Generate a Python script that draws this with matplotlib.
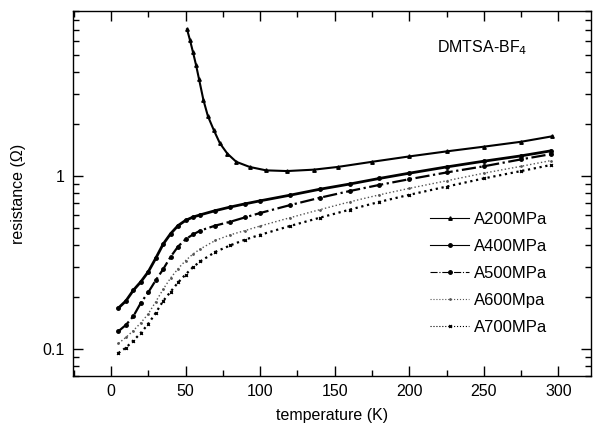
import matplotlib
matplotlib.use('Agg')
import matplotlib.pyplot as plt
from matplotlib.lines import Line2D
from matplotlib.ticker import MultipleLocator, LogLocator, NullFormatter, FixedLocator, FixedFormatter

plt.rcParams['font.family'] = ['Liberation Sans', 'DejaVu Sans']

# temperature grid (K) shared by the four metallic samples
T_low = [5, 10, 15, 20, 25, 30, 35, 40, 45, 50, 55, 60, 70, 80, 90, 100,
         120, 140, 160, 180, 200, 225, 250, 275, 295]

# resistance (Ohm)
r400 = [0.173, 0.19, 0.219, 0.245, 0.28, 0.335, 0.405, 0.465, 0.518, 0.555, 0.58,
        0.598, 0.632, 0.663, 0.692, 0.72, 0.776, 0.84, 0.90, 0.97, 1.04, 1.13,
        1.22, 1.31, 1.40]
r500 = [0.127, 0.138, 0.155, 0.185, 0.213, 0.25, 0.29, 0.342, 0.392, 0.432, 0.46,
        0.485, 0.518, 0.545, 0.578, 0.612, 0.68, 0.75, 0.82, 0.89, 0.96, 1.05,
        1.14, 1.25, 1.34]
r600 = [0.108, 0.117, 0.128, 0.142, 0.16, 0.188, 0.222, 0.258, 0.292, 0.325,
        0.355, 0.38, 0.425, 0.458, 0.485, 0.515, 0.575, 0.64, 0.71, 0.78, 0.85,
        0.94, 1.04, 1.14, 1.23]
r700 = [0.095, 0.102, 0.112, 0.124, 0.14, 0.162, 0.19, 0.215, 0.243, 0.27,
        0.298, 0.322, 0.365, 0.398, 0.43, 0.458, 0.515, 0.575, 0.64, 0.71, 0.78,
        0.87, 0.97, 1.07, 1.16]

# A200MPa sample (semiconducting upturn below ~100 K)
T200 = [51, 53, 55, 57, 59, 62, 65, 69, 73, 78, 84, 93, 104, 118, 136, 152,
        175, 200, 225, 250, 275, 296]
r200 = [7.05, 6.1, 5.2, 4.4, 3.65, 2.75, 2.22, 1.84, 1.55, 1.35, 1.21, 1.13,
        1.08, 1.07, 1.09, 1.13, 1.21, 1.30, 1.39, 1.48, 1.58, 1.70]

labels = ['A200MPa', 'A400MPa', 'A500MPa', 'A600Mpa', 'A700MPa']

fig = plt.figure(figsize=(5.93, 4.30), dpi=100)
ax = fig.add_axes([0.123, 0.1256, 0.874, 0.8488])

ax.plot(T200, r200, color='black', lw=1.5, marker='^', ms=2.5)
ax.plot(T_low, r400, color='black', lw=2.0, marker='o', ms=2.5)
ax.plot(T_low, r500, color='black', lw=1.6, ls='-.', marker='o', ms=2.5)
ax.plot(T_low, r600, color='#555555', lw=1.0, ls=':', marker='.', ms=2)
ax.plot(T_low, r700, color='black', lw=1.6, ls=':', marker='x', ms=2)

ax.set_yscale('log')
ax.set_xlim(-25.5, 322)
ax.set_ylim(0.07, 9.0)

ax.xaxis.set_major_locator(MultipleLocator(50))
ax.xaxis.set_minor_locator(MultipleLocator(25))
ax.yaxis.set_major_locator(FixedLocator([0.1, 1]))
ax.yaxis.set_major_formatter(FixedFormatter(['0.1', '1']))
ax.yaxis.set_minor_locator(LogLocator(base=10, subs=range(2, 10)))
ax.yaxis.set_minor_formatter(NullFormatter())

ax.tick_params(which='both', direction='in', top=True, right=True,
               labelsize=11.5, width=1)
ax.tick_params(which='major', length=7, pad=6)
ax.tick_params(which='minor', length=4)
for s in ax.spines.values():
    s.set_linewidth(1.0)

ax.set_xlabel('temperature (K)', fontsize=11.5, labelpad=6)
ax.set_ylabel('resistance (\u03a9)', fontsize=11.5, labelpad=12)

ax.text(0.703, 0.899, 'DMTSA-BF$_4$', transform=ax.transAxes,
        fontsize=11.5, va='center', ha='left')

handles = [
    Line2D([], [], color='black', lw=0.8, marker='^', ms=2.5),
    Line2D([], [], color='black', lw=0.8, marker='o', ms=2.5),
    Line2D([], [], color='black', lw=0.8, ls='-.', marker='o', ms=2.5),
    Line2D([], [], color='#555555', lw=0.8, ls=':', marker='.', ms=2),
    Line2D([], [], color='black', lw=0.8, ls=':', marker='x', ms=2),
]
ax.legend(handles, labels, loc='upper left', bbox_to_anchor=(0.689, 0.45),
          frameon=False, fontsize=12, borderpad=0, borderaxespad=0,
          handlelength=2.35, handletextpad=0.3, labelspacing=0.72)

fig.savefig('out.png', dpi=100)
